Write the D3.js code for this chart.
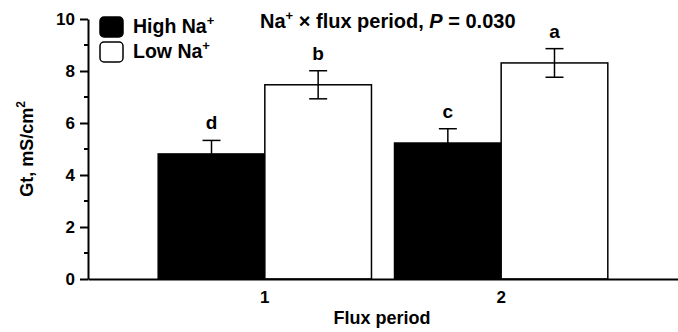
<!DOCTYPE html>
<html>
<head>
<meta charset="utf-8">
<script src="https://cdn.jsdelivr.net/npm/d3@7"></script>
<style>
  body { margin: 0; background: #fff; }
  svg { display: block; font-family: "Liberation Sans", Arial, sans-serif; font-weight: bold; }
</style>
</head>
<body>
<svg id="chart"></svg>
<script>
const width = 678;
const height = 332;

// Data
const periods = ["1", "2"];
const groups = ["High", "Low"];
const highMeans = [4.81, 5.23];
const highErrs = [0.52, 0.55];
const lowMeans = [7.47, 8.31];
const lowErrs = [0.54, 0.55];
const letters = { High: ["d", "c"], Low: ["b", "a"] };
const yTicks = [0, 2, 4, 6, 8, 10];

const data = [];
periods.forEach((p, i) => {
    data.push({ period: p, group: "High", mean: highMeans[i], err: highErrs[i], letter: letters.High[i] });
    data.push({ period: p, group: "Low", mean: lowMeans[i], err: lowErrs[i], letter: letters.Low[i] });
});

const margin = { top: 19, right: 0, bottom: 53, left: 88 };

const svg = d3.select("#chart")
    .attr("width", width)
    .attr("height", height)
    .attr("viewBox", [0, 0, width, height]);

const x = d3.scaleBand()
    .domain(periods)
    .range([margin.left, width - margin.right])
    .paddingInner(0.0975)
    .paddingOuter(0.297);

const xInner = d3.scaleBand()
    .domain(groups)
    .range([0, x.bandwidth()]);

const y = d3.scaleLinear()
    .domain([0, 10])
    .range([height - margin.bottom, margin.top]);

// Bars
svg.append("g")
    .selectAll("rect")
    .data(data)
    .join("rect")
    .attr("x", d => x(d.period) + xInner(d.group))
    .attr("y", d => y(d.mean))
    .attr("width", xInner.bandwidth())
    .attr("height", d => y(0) - y(d.mean))
    .attr("fill", d => d.group === "High" ? "#000" : "#fff")
    .attr("stroke", "#000")
    .attr("stroke-width", 1.5);

// Error bars
const capW = 9;
const eb = svg.append("g")
    .attr("stroke", "#000")
    .attr("stroke-width", 1.5)
    .selectAll("g")
    .data(data)
    .join("g")
    .attr("transform", d => `translate(${x(d.period) + xInner(d.group) + xInner.bandwidth() / 2},0)`);

eb.append("line")
    .attr("y1", d => y(d.mean + d.err))
    .attr("y2", d => d.group === "High" ? y(d.mean) : y(d.mean - d.err));
eb.append("line")
    .attr("x1", -capW).attr("x2", capW)
    .attr("y1", d => y(d.mean + d.err))
    .attr("y2", d => y(d.mean + d.err));
eb.filter(d => d.group === "Low").append("line")
    .attr("x1", -capW).attr("x2", capW)
    .attr("y1", d => y(d.mean - d.err))
    .attr("y2", d => y(d.mean - d.err));

// Significance letters
svg.append("g")
    .selectAll("text")
    .data(data)
    .join("text")
    .attr("x", d => x(d.period) + xInner(d.group) + xInner.bandwidth() / 2)
    .attr("y", d => y(d.mean + d.err) - 11)
    .attr("text-anchor", "middle")
    .attr("font-size", 19)
    .text(d => d.letter);

// Y axis
const yAxis = svg.append("g")
    .attr("transform", `translate(${margin.left},0)`)
    .call(d3.axisLeft(y).tickValues(yTicks).tickSize(8).tickSizeOuter(0).tickPadding(5));
yAxis.select(".domain").attr("stroke-width", 2);
yAxis.selectAll(".tick line").attr("stroke-width", 2);
yAxis.selectAll(".tick text").attr("font-size", 17).attr("font-family", null).attr("fill", "#000");

// minor ticks
svg.append("g")
    .selectAll("line")
    .data(d3.range(1, 10, 2))
    .join("line")
    .attr("x1", margin.left - 4)
    .attr("x2", margin.left)
    .attr("y1", d => y(d))
    .attr("y2", d => y(d))
    .attr("stroke", "#000")
    .attr("stroke-width", 2);

// X axis
const xAxis = svg.append("g")
    .attr("transform", `translate(0,${y(0)})`)
    .call(d3.axisBottom(x).tickSize(0).tickSizeOuter(0).tickPadding(12));
xAxis.select(".domain").attr("stroke-width", 2);
xAxis.selectAll(".tick text").attr("font-size", 17).attr("font-family", null).attr("fill", "#000");

// Axis titles
svg.append("text")
    .attr("x", 382)
    .attr("y", 324)
    .attr("text-anchor", "middle")
    .attr("font-size", 18)
    .text("Flux period");

const yTitle = svg.append("text")
    .attr("transform", `translate(33,${(y(0) + y(10)) / 2}) rotate(-90)`)
    .attr("text-anchor", "middle")
    .attr("font-size", 18);
yTitle.append("tspan").text("Gt, mS/cm");
yTitle.append("tspan").attr("font-size", 12).attr("dy", -8).text("2");

// Legend
const legendItems = [
    { label: "High Na", fill: "#000" },
    { label: "Low Na", fill: "#fff" }
];
const legend = svg.append("g")
    .selectAll("g")
    .data(legendItems)
    .join("g")
    .attr("transform", (d, i) => `translate(100,${17 + i * 25})`);
legend.append("rect")
    .attr("width", 23)
    .attr("height", 20)
    .attr("rx", 4)
    .attr("fill", d => d.fill)
    .attr("stroke", "#000")
    .attr("stroke-width", 1.5);
const lt = legend.append("text")
    .attr("x", 33)
    .attr("y", 16)
    .attr("font-size", 19.5);
lt.append("tspan").text(d => d.label);
lt.append("tspan").attr("font-size", 13).attr("dy", -8).text("+");

// Interaction title
const title = svg.append("text")
    .attr("x", 260)
    .attr("y", 28)
    .attr("font-size", 20);
title.append("tspan").text("Na");
title.append("tspan").attr("font-size", 13).attr("dy", -8).text("+");
title.append("tspan").attr("dy", 8).text(" \u00d7 flux period, ");
title.append("tspan").attr("font-style", "italic").text("P");
title.append("tspan").text(" = 0.030");
</script>
</body>
</html>
